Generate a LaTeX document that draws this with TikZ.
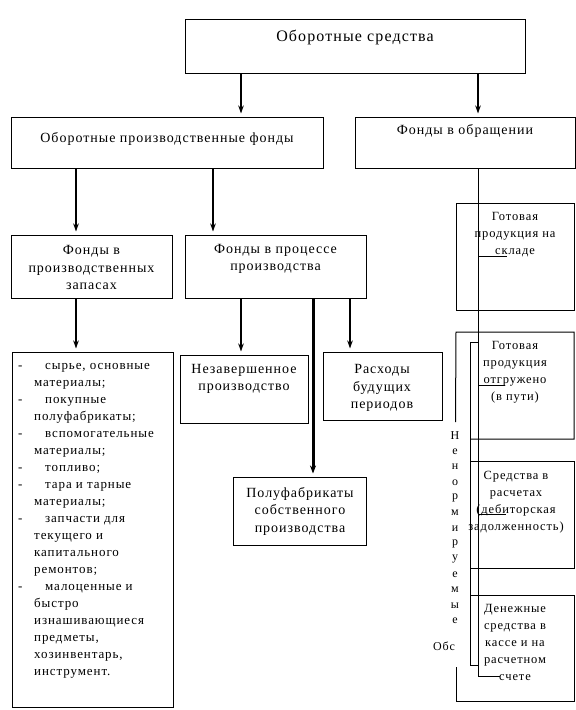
\documentclass[tikz,border=0pt]{standalone}
\usepackage{fontspec}
\setmainfont{Liberation Serif}[LetterSpace=7]
\usetikzlibrary{arrows.meta}
\tikzset{
  box/.style={draw, line width=1pt, inner sep=0pt},
  txt/.style={align=center, font=\fontsize{14}{17.5}\selectfont, inner sep=0pt},
  rtxt/.style={align=center, font=\fontsize{12.5}{17}\selectfont, inner sep=0pt},
  ltxt/.style={align=left, font=\fontsize{13}{17}\selectfont, inner sep=0pt},
  vlet/.style={font=\fontsize{12}{14}\selectfont, inner sep=0pt},
  arr/.style={line width=2pt, -{Stealth[length=8pt,width=5.5pt,inset=2.5pt]}, shorten >=3pt},
  tharr/.style={line width=3pt, -{Stealth[length=8pt,width=6pt,inset=2.5pt]}, shorten >=3pt},
  thinl/.style={line width=1pt}
}
\newcommand\litem[1]{\makebox[27pt][l]{-}#1}
\newcommand\lcont[1]{\hspace*{16pt}#1}
\begin{document}
\begin{tikzpicture}[x=1pt,y=-1pt]
\useasboundingbox (0,0) rectangle (576,710);
% boxes
\node[box, minimum width=340pt, minimum height=54pt] (top) at (355,46) {};
\node[box, minimum width=312pt, minimum height=51pt] (opf) at (167,142.5) {};
\node[box, minimum width=220pt, minimum height=51pt] (fo) at (465,142.5) {};
\node[box, minimum width=161pt, minimum height=63pt] (fpz) at (91.5,266.5) {};
\node[box, minimum width=181pt, minimum height=63pt] (fpp) at (275.5,266.5) {};
\node[box, minimum width=161pt, minimum height=355pt] (list) at (92.5,529.5) {};
\node[box, minimum width=128pt, minimum height=68pt] (nez) at (244,389) {};
\node[box, minimum width=119pt, minimum height=68pt] (ras) at (382.5,386) {};
\node[box, minimum width=133pt, minimum height=68pt] (pol) at (299.5,511) {};
\node[box, minimum width=118pt, minimum height=107pt] (gp1) at (515,256.5) {};
% texts
\node[txt, font=\fontsize{16}{19}\selectfont] (topt) at (355,37) {Оборотные средства};
\node[txt] (opft) at (167,139) {Оборотные производственные фонды};
\node[txt] (fot) at (465,131) {Фонды в обращении};
\node[txt] (fpzt) at (91.5,267.5) {Фонды в\\производственных\\запасах};
\node[txt] (fppt) at (275.5,259) {Фонды в процессе\\производства};
\node[txt] (nezt) at (244,379) {Незавершенное\\производство};
\node[txt] (rast) at (382,388) {Расходы\\будущих\\периодов};
\node[txt] (polt) at (300,511) {Полуфабрикаты\\собственного\\производства};
\node[rtxt] (gp1t) at (515,235) {Готовая\\продукция на\\складе};
\node[rtxt] (gp2t) at (515,372) {Готовая\\продукция\\отгружено\\(в пути)};
\node[rtxt] (srt) at (516,502.5) {Средства в\\расчетах\\(дебиторская\\задолженность)};
\node[rtxt] (dent) at (515,642) {Денежные\\средства в\\кассе и на\\расчетном\\счете};
\node[ltxt, anchor=north west] (listt) at (18,363) {%
\litem{сырье, основные}\\\lcont{материалы;}\\
\litem{покупные}\\\lcont{полуфабрикаты;}\\
\litem{вспомогательные}\\\lcont{материалы;}\\
\litem{топливо;}\\
\litem{тара и тарные}\\\lcont{материалы;}\\
\litem{запчасти для}\\\lcont{текущего и}\\\lcont{капитального}\\\lcont{ремонтов;}\\
\litem{малоценные и}\\\lcont{быстро}\\\lcont{изнашивающиеся}\\\lcont{предметы,}\\\lcont{хозинвентарь,}\\\lcont{инструмент.}};
% vertical letters
\foreach \l/\yy [count=\i] in {Н/436,е/452,н/467,о/483,р/498,м/513,и/529,р/544,у/559,е/575,м/590,ы/606,е/621}
  \node[vlet] (v\i) at (455,\yy) {\l};
\node[vlet] (obs) at (444,646) {Обс};
% right column partial outlines
\draw[thinl] (gp1.south west |- 0,422) -- (456,332) -- (574,332) -- (574,439) -- (470,439);
\draw[thinl] (470,461) -- (574,461) -- (574,568) -- (470,568);
\draw[thinl] (470,595) -- (574,595) -- (574,701) -- (456,701) -- (456,667);
\draw[thinl] (478,342) -- (470,342) -- (470,665) -- (478,665);
\coordinate (l1end) at (478,676);
\draw[thinl] (fo.south -| 478,0) -- (l1end) -- (500,676);
\draw[thinl] (478,256) -- (507,256);
\draw[thinl] (478,385) -- (505,385);
\draw[thinl] (478,514) -- (506,514);
% arrows
\draw[arr] (top.south -| 241,0) -- (opf.north -| 241,0);
\draw[arr] (top.south -| 478,0) -- (fo.north -| 478,0);
\draw[arr] (opf.south -| 76,0) -- (fpz.north -| 76,0);
\draw[arr] (opf.south -| 213,0) -- (fpp.north -| 213,0);
\draw[arr] (fpz.south -| 76,0) -- (list.north -| 76,0);
\draw[arr] (fpp.south -| 241,0) -- (nez.north -| 241,0);
\draw[arr] (fpp.south -| 350,0) -- (ras.north -| 350,0);
\draw[tharr] (fpp.south -| 313,0) -- (pol.north -| 313,0);
\end{tikzpicture}
\end{document}
